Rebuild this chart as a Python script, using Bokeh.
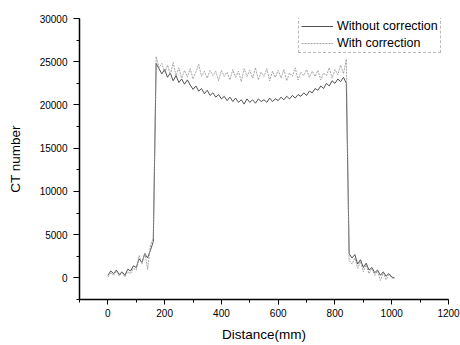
from bokeh.plotting import figure
from bokeh.models import Range1d, SingleIntervalTicker, Legend, LegendItem
from bokeh.embed import file_html
from bokeh.resources import INLINE

distance = [0, 10, 20, 30, 40, 50, 60, 70, 80, 90, 100, 110, 120, 130, 140, 150, 160, 170, 180, 190,
            200, 210, 220, 230, 240, 250, 260, 270, 280, 290, 300, 310, 320, 330, 340, 350, 360, 370, 380, 390,
            400, 410, 420, 430, 440, 450, 460, 470, 480, 490, 500, 510, 520, 530, 540, 550, 560, 570, 580, 590,
            600, 610, 620, 630, 640, 650, 660, 670, 680, 690, 700, 710, 720, 730, 740, 750, 760, 770, 780, 790,
            800, 810, 820, 830, 840, 850, 860, 870, 880, 890, 900, 910, 920, 930, 940, 950, 960, 970, 980, 990,
            1000, 1010]

without_correction = [300, 800, 500, 900, 400, 700, 300, 1000, 800, 1400, 1200, 2200, 1800, 2800, 2300, 3200, 4200, 24800, 24200, 23600,
                      24100, 23200, 23700, 22800, 23400, 22600, 23000, 22400, 22900, 22300, 21800, 22200, 21600, 21900, 21300, 21700, 21100, 21400, 20900, 21200,
                      20700, 21000, 20500, 20900, 20400, 20800, 20300, 20600, 20100, 20700, 20300, 20600, 20200, 20700, 20400, 20600, 20300, 20800, 20400, 20700,
                      20500, 20900, 20600, 21000, 20700, 21100, 20800, 21200, 21000, 21400, 21100, 21600, 21400, 21900, 21700, 22200, 21900, 22500, 22200, 22800,
                      22500, 23000, 22700, 23200, 22500, 2800, 2300, 2700, 1600, 2100, 1200, 1700, 900, 1200, 600, 900, 300, 700, 200, 500,
                      100, 0]

with_correction = [100, 600, 300, 800, 200, 600, 100, 700, 500, 1100, 900, 2600, 1600, 2900, 1000, 3800, 4600, 25600, 24300, 24800,
                   23800, 24600, 23500, 24900, 23400, 24300, 23100, 24000, 23200, 24200, 23000, 23800, 24700, 23300, 23900, 23100, 24000, 23400, 23900, 22800,
                   24000, 23300, 23800, 22900, 24100, 23200, 23900, 22700, 24200, 23300, 24000, 23100, 24300, 22900, 23800, 23300, 24200, 22800, 23900, 23200,
                   24000, 23100, 24100, 22800, 23700, 23300, 24300, 22900, 23800, 23400, 24100, 23200, 23900, 23300, 24000, 22900, 23700, 23400, 24300, 23100,
                   24100, 23500, 24600, 23600, 25300, 2000, 1600, 2300, 1100, 1900, 700, 1500, 500, 1100, 300, 800, -300, 600, -200, 400,
                   0, -100]

FONT = "Liberation Sans"

p = figure(width=460, height=345, output_backend="svg", toolbar_location=None,
           x_range=Range1d(-100, 1200), y_range=Range1d(-2500, 30000),
           min_border_left=79, min_border_right=12, min_border_top=18, min_border_bottom=46)
p.outline_line_color = None
p.grid.visible = False
p.background_fill_color = "white"
p.border_fill_color = "white"

r1 = p.line(distance, without_correction, line_color="#404040", line_width=0.9)
r2 = p.line(distance, with_correction, line_color="#9a9a9a", line_width=0.9, line_dash="2 1")

p.xaxis.ticker = SingleIntervalTicker(interval=200, num_minor_ticks=2)
p.yaxis.ticker = SingleIntervalTicker(interval=5000, num_minor_ticks=2)
for ax in (p.xaxis[0], p.yaxis[0]):
    ax.axis_line_color = "black"
    ax.axis_line_width = 1.5
    ax.major_tick_line_color = "black"
    ax.minor_tick_line_color = "black"
    ax.major_tick_in = 0
    ax.minor_tick_out = 3
    ax.minor_tick_in = 0
    ax.major_label_text_font = FONT
    ax.major_label_text_font_size = "10px"
    ax.major_label_text_color = "black"
    ax.axis_label_text_font = FONT
    ax.axis_label_text_font_size = "13.5px"
    ax.axis_label_text_font_style = "normal"
    ax.axis_label_text_color = "black"
p.xaxis.major_tick_out = 5
p.yaxis.major_tick_out = 6
p.xaxis.axis_label = "Distance(mm)"
p.yaxis.axis_label = "CT number"
p.xaxis.major_label_standoff = 4
p.yaxis.major_label_standoff = 6
p.xaxis.axis_label_standoff = 7
p.yaxis.axis_label_standoff = 14

legend = Legend(items=[LegendItem(label="Without correction", renderers=[r1]),
                       LegendItem(label="With correction", renderers=[r2])],
                location=(219, 246))
legend.border_line_color = "#777777"
legend.border_line_dash = "1 1"
legend.border_line_width = 1
legend.background_fill_alpha = 1
legend.label_text_font = FONT
legend.label_text_font_size = "12.5px"
legend.label_text_color = "black"
legend.glyph_width = 32
legend.glyph_height = 14
legend.label_height = 14
legend.spacing = 3
legend.padding = 2
legend.margin = 0
legend.label_standoff = 4
p.add_layout(legend, "center")

open("out.html", "w").write(file_html(p, INLINE))
